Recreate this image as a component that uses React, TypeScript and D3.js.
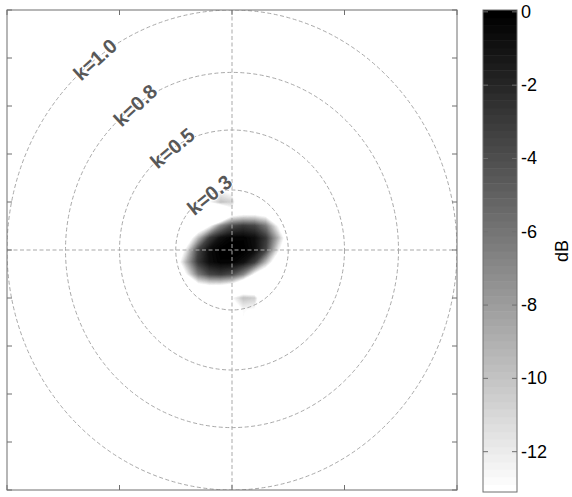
import * as d3 from "d3";

// plot area (pixels) and colorbar box
const W = 572;
const H = 497;
const PLOT = { left: 7, top: 10, right: 457, bottom: 490 };
const CBAR = { left: 483, top: 10, right: 517, bottom: 492 };

// axes: no tick labels, only tick marks
const xTicks = [-1, -0.5, 0, 0.5, 1];
const yTicks = [-1, -0.8, -0.6, -0.4, -0.2, 0, 0.2, 0.4, 0.6, 0.8, 1];

// wavenumber rings
const ringRadii = [1.0, 0.74, 0.5, 0.25];
const ringLabels = ["k=1.0", "k=0.8", "k=0.5", "k=0.3"];
const ringLabelAngle = [127.5, 125.5, 122, 113.5];
const ringLabelRotate = [-42, -43, -40, -39];

// colour scale (dB)
const cbDomain: [number, number] = [-13.1, 0.05];
const cbTicks = [0, -2, -4, -6, -8, -10, -12];

// sampled beam power (dB), rows top (y=0.25) to bottom (y=-0.25)
const gridX = [-0.25, -0.2, -0.15, -0.1, -0.05, 0, 0.05, 0.1, 0.15, 0.2, 0.25];
const gridY = [0.25, 0.2, 0.15, 0.1, 0.05, 0, -0.05, -0.1, -0.15, -0.2, -0.25];
const powerDb = [
  [-25, -25, -25, -25, -12.9, -14, -25, -25, -25, -25, -25],
  [-25, -25, -25, -13.0, -10.0, -10.8, -21, -21, -21, -22, -24],
  [-31, -27, -23.5, -20, -25, -15.1, -13.9, -13.8, -14.8, -16.8, -19.5],
  [-25.5, -21.2, -17.1, -13.3, -6.9, -3.9, -3.0, -3.6, -6.3, -12.5, -16.5],
  [-20.7, -16.0, -9.5, -3.2, -0.9, -0.2, -0.2, -0.8, -2.9, -8.8, -15.7],
  [-17.2, -11.5, -3.6, -0.7, 0, 0, 0, -0.7, -3.6, -11.5, -17.2],
  [-15.7, -8.8, -2.9, -0.8, -0.2, -0.2, -0.9, -3.2, -9.5, -16.0, -20.7],
  [-16.5, -12.5, -6.3, -3.6, -3.0, -3.9, -6.9, -13.3, -17.1, -21.2, -25.5],
  [-19.5, -16.8, -14.8, -13.8, -13.9, -15.1, -20, -20.1, -23.5, -27.2, -31],
  [-24, -22, -21, -21, -21, -13.0, -10.0, -10.6, -20, -25, -25],
  [-25, -25, -25, -25, -25, -25, -12.8, -13.2, -25, -25, -25],
];

const FONT = "'Liberation Sans', Arial, Helvetica, sans-serif";
const N_COLORS = 64;

export default function App() {
  const x = d3.scaleLinear().domain([-1, 1]).range([PLOT.left, PLOT.right]);
  const y = d3.scaleLinear().domain([-1, 1]).range([PLOT.bottom, PLOT.top]);
  const cb = d3.scaleLinear().domain(cbDomain).range([CBAR.bottom, CBAR.top]);

  // flipped gray colormap: index 0 = white (low), 63 = black (high)
  const grey = (i: number) => {
    const v = Math.round(255 * (1 - i / (N_COLORS - 1)));
    return d3.rgb(v, v, v).formatHex();
  };
  const step = (cbDomain[1] - cbDomain[0]) / N_COLORS;

  // filled contours of the sampled field (like shading interp)
  const nx = gridX.length;
  const ny = gridY.length;
  const thresholds = d3.range(1, N_COLORS).map((k) => cbDomain[0] + k * step);
  const bands = d3.contours().size([nx, ny]).thresholds(thresholds)(powerDb.flat());
  const gx = d3.scaleLinear().domain([0.5, nx - 0.5]).range([x(gridX[0]), x(gridX[nx - 1])]);
  const gy = d3.scaleLinear().domain([0.5, ny - 0.5]).range([y(gridY[0]), y(gridY[ny - 1])]);
  const proj = d3.geoTransform({
    point(px: number, py: number) {
      this.stream.point(gx(px), gy(py));
    },
  });
  const path = d3.geoPath(proj);

  const gridColor = "#a9a9a9";
  const axisColor = "#6f6f6f";
  const tick = 5;

  return (
    <svg width={W} height={H} style={{ position: "absolute", left: 0, top: 0, background: "#fff" }}>
      <defs>
        <clipPath id="plot-clip">
          <rect x={PLOT.left} y={PLOT.top} width={PLOT.right - PLOT.left} height={PLOT.bottom - PLOT.top} />
        </clipPath>
      </defs>

      <g clipPath="url(#plot-clip)">
        {bands.map((b, i) => (
          <path key={i} d={path(b as any) ?? ""} fill={grey(i + 1)} stroke={grey(i + 1)} strokeWidth={0.3} />
        ))}

        {/* crosshair + rings */}
        <line x1={x(0)} x2={x(0)} y1={PLOT.top} y2={PLOT.bottom} stroke={gridColor} strokeDasharray="4,2.5" />
        <line x1={PLOT.left} x2={PLOT.right} y1={y(0)} y2={y(0)} stroke={gridColor} strokeDasharray="4,2.5" />
        {ringRadii.map((r) => (
          <ellipse key={r} cx={x(0)} cy={y(0)} rx={x(r) - x(0)} ry={y(0) - y(r)}
            fill="none" stroke={gridColor} strokeDasharray="4,2.5" />
        ))}

        {ringRadii.map((r, i) => {
          const a = (ringLabelAngle[i] * Math.PI) / 180;
          const lx = x(r * Math.cos(a));
          const ly = y(r * Math.sin(a));
          return (
            <text key={ringLabels[i]} x={lx} y={ly} transform={`rotate(${ringLabelRotate[i]},${lx},${ly})`}
              textAnchor="middle" dominantBaseline="central" fontFamily={FONT} fontWeight="bold"
              fontSize={20} fill="#585858" stroke="#fff" strokeWidth={1.5} paintOrder="stroke">
              {ringLabels[i]}
            </text>
          );
        })}
      </g>

      {/* axes box with inward ticks on all sides */}
      <g stroke={axisColor} strokeWidth={1}>
        {xTicks.map((t) => (
          <g key={"x" + t}>
            <line x1={x(t)} x2={x(t)} y1={PLOT.bottom} y2={PLOT.bottom - tick} />
            <line x1={x(t)} x2={x(t)} y1={PLOT.top} y2={PLOT.top + tick} />
          </g>
        ))}
        {yTicks.map((t) => (
          <g key={"y" + t}>
            <line x1={PLOT.left} x2={PLOT.left + tick} y1={y(t)} y2={y(t)} />
            <line x1={PLOT.right} x2={PLOT.right - tick} y1={y(t)} y2={y(t)} />
          </g>
        ))}
        <rect x={PLOT.left} y={PLOT.top} width={PLOT.right - PLOT.left} height={PLOT.bottom - PLOT.top} fill="none" />
      </g>

      {/* colorbar */}
      <g>
        {d3.range(N_COLORS).map((i) => {
          const v0 = cbDomain[0] + i * step;
          const v1 = v0 + step;
          return (
            <rect key={i} x={CBAR.left} y={cb(v1)} width={CBAR.right - CBAR.left}
              height={cb(v0) - cb(v1) + 0.5} fill={grey(i)} />
          );
        })}
        <g stroke={axisColor} strokeWidth={1}>
          {cbTicks.map((t) => (
            <g key={t}>
              <line x1={CBAR.left} x2={CBAR.left + 5} y1={cb(t)} y2={cb(t)} />
              <line x1={CBAR.right} x2={CBAR.right - 5} y1={cb(t)} y2={cb(t)} />
            </g>
          ))}
          <rect x={CBAR.left} y={CBAR.top} width={CBAR.right - CBAR.left} height={CBAR.bottom - CBAR.top} fill="none" />
        </g>
        {cbTicks.map((t) => (
          <text key={t} x={CBAR.right + 4} y={cb(t)} dominantBaseline="central" fontFamily={FONT} fontSize={18} fill="#000">
            {t}
          </text>
        ))}
        <text x={562} y={(CBAR.top + CBAR.bottom) / 2} transform={`rotate(-90,562,${(CBAR.top + CBAR.bottom) / 2})`}
          textAnchor="middle" dominantBaseline="central" fontFamily={FONT} fontSize={18} fill="#000">
          dB
        </text>
      </g>
    </svg>
  );
}
